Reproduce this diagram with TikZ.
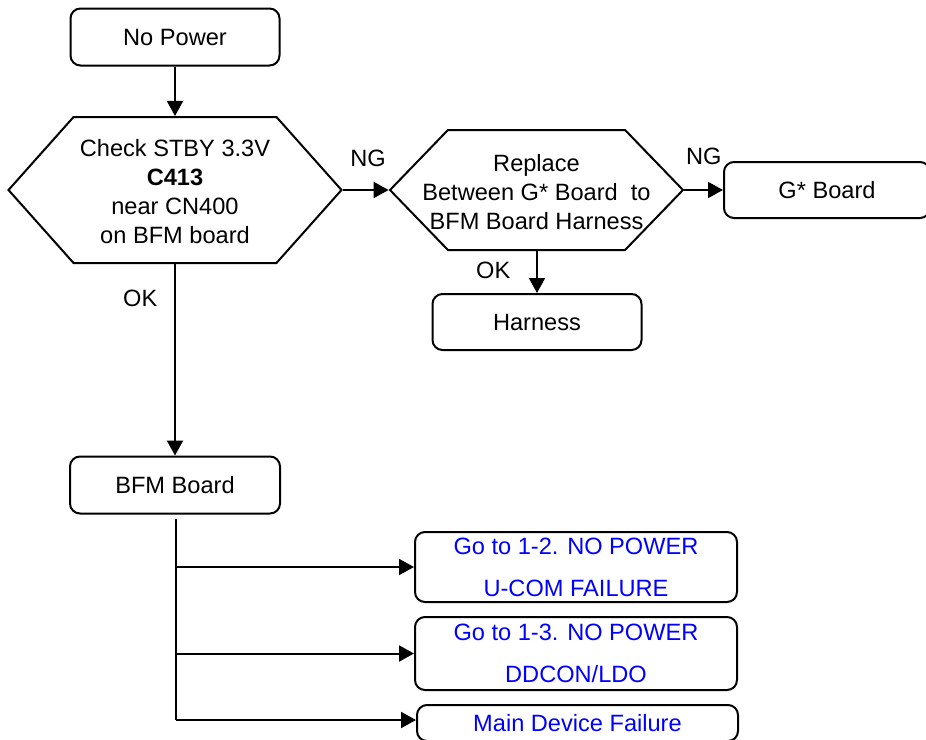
\documentclass[tikz,border=0pt]{standalone}
\usepackage{fontspec}
\setmainfont{Liberation Sans}
\usetikzlibrary{calc, positioning, shapes.symbols, arrows.meta}

\tikzset{
	every node/.style = {font=\fontsize{11.8pt}{14.5pt}\selectfont},
	box/.style = {draw, line width=1pt, rounded corners=5pt, inner sep=0pt, align=center},
	hexa/.style = {draw, line width=1pt, shape=signal, signal to=west and east, inner sep=0pt},
	golink/.style = {box, text=blue, font=\fontsize{11.8pt}{21pt}\selectfont},
	arr/.style = {line width=1pt, -{Triangle[length=7.5pt, width=8pt]}}
}

\begin{document}
\begin{tikzpicture}[x=0.5pt, y=-0.5pt]

	\useasboundingbox (0,0) rectangle (926,739);

	\node[box, minimum width=104.5pt, minimum height=28.5pt] (nopower) at (175,37) {No Power};
	\node[hexa, signal pointer angle=96.6, minimum width=166.5pt, minimum height=73pt] (check) at (175,190) {};
	\node[align=center] (checktext) at (175,191.5) {Check STBY 3.3V\\\textbf{C413}\\near CN400\\on BFM board};
	\node[hexa, signal pointer angle=92, minimum width=146.5pt, minimum height=60pt] (replace) at (536.5,190) {};
	\node[align=center] (replacetext) at (536.5,192) {Replace\\Between G* Board\ \ to\\BFM Board Harness};
	\node[box, minimum width=103pt, minimum height=28pt, anchor=west] (gboard) at (723,190) {G* Board};
	\node[box, minimum width=104.5pt, minimum height=28pt] (harness) at (537,322) {Harness};
	\node[box, minimum width=105pt, minimum height=28.5pt] (bfm) at (175,485) {BFM Board};

	\node[golink, minimum width=161pt, minimum height=35pt] (go12) at (576,567) {Go to 1-2. NO POWER\\U-COM FAILURE};
	\node[golink, minimum width=161pt, minimum height=36.5pt] (go13) at (576,653.5) {Go to 1-3. NO POWER\\DDCON/LDO};
	\node[golink, minimum width=160.5pt, minimum height=18pt] (maindev) at (577.5,723) {Main Device Failure};

	\draw[arr] (nopower) -- (check);
	\draw[arr] (check.east) -- (replace.west) node[pos=0.55, above=8pt] {NG};
	\draw[arr] (replace.east) -- (gboard.west) node[pos=0.5, above=9pt] {NG};
	\draw[arr] (replace.south -| harness) -- (harness) node[pos=0.45, left=9.5pt] {OK};
	\draw[arr] (check) -- (bfm) node[pos=0.18, left=5pt] {OK};

	\coordinate (trunk) at ($(bfm.south)+(1,4)$);
	\coordinate (trunkend) at (176,720);
	\draw[line width=1pt] (trunk) -- (trunkend);
	\draw[arr] (trunk |- go12.west) -- (go12.west);
	\draw[arr] (trunk |- go13.west) -- (go13.west);
	\draw[arr] (trunkend) -- (trunkend -| maindev.west);

\end{tikzpicture}
\end{document}
